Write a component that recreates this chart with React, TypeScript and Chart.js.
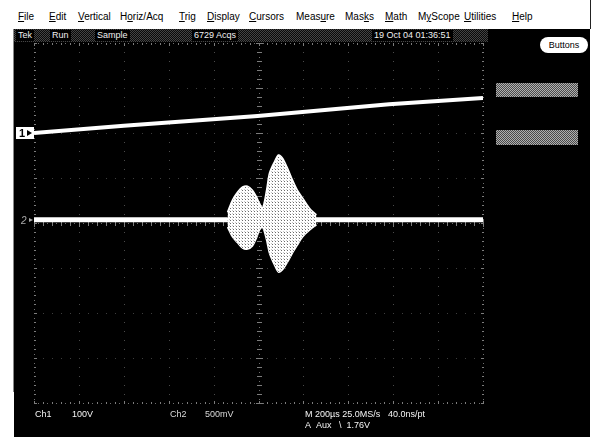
import React, { useEffect, useRef } from "react";
import { Chart, registerables } from "chart.js";

Chart.register(...registerables);

// Horizontal: 200 µs/div, 10 divisions. Vertical: values in graticule divisions (8 divs).
const TIME_MIN_US = 0;
const TIME_MAX_US = 2000;
const TIME_PER_DIV_US = 200;
const DIV_MIN = -4;
const DIV_MAX = 4;

// Channel 1: slow ramp (100 V/div)
const CH1_TIME_US = [0, 400, 996, 1582, 2000];
const CH1_DIV = [2.0, 2.16, 2.38, 2.64, 2.78];

// Channel 2: flat trace (500 mV/div)
const CH2_TIME_US = [0, 2000];
const CH2_DIV = [0.07, 0.07];

// Channel 2 burst envelope
const BURST_TIME_US = [862, 884, 907, 929, 951, 973, 991, 1004, 1018, 1036, 1049, 1071, 1089, 1107, 1129, 1151, 1173, 1196, 1227, 1258];
const BURST_UPPER_DIV = [0.24, 0.51, 0.69, 0.8, 0.82, 0.73, 0.58, 0.44, 0.33, 0.73, 1.11, 1.36, 1.51, 1.44, 1.22, 0.96, 0.73, 0.56, 0.33, 0.18];
const BURST_LOWER_DIV = [-0.09, -0.31, -0.44, -0.56, -0.58, -0.51, -0.33, -0.16, -0.09, -0.38, -0.67, -0.93, -1.09, -1.04, -0.87, -0.67, -0.49, -0.31, -0.16, -0.04];

const MENU_ITEMS: [string, number, number][] = [
  ["File", 18, 0],
  ["Edit", 49, 0],
  ["Vertical", 78, 0],
  ["Horiz/Acq", 120, 1],
  ["Trig", 179, 0],
  ["Display", 207, 0],
  ["Cursors", 249, 0],
  ["Measure", 296, 4],
  ["Masks", 345, 3],
  ["Math", 385, 0],
  ["MyScope", 418, 1],
  ["Utilities", 464, 0],
  ["Help", 512, 0],
];

const STATUS_ITEMS: [string, number][] = [
  ["Tek", 16],
  ["Run", 50],
  ["Sample", 95],
  ["6729 Acqs", 192],
  ["19 Oct 04 01:36:51", 372],
];

const pts = (xs: number[], ys: number[]) => xs.map((x, i) => ({ x, y: ys[i] }));

function makeDither(ctx: CanvasRenderingContext2D) {
  const c = document.createElement("canvas");
  c.width = 3;
  c.height = 3;
  const g = c.getContext("2d")!;
  g.fillStyle = "#ffffff";
  g.fillRect(0, 0, 3, 3);
  g.fillStyle = "#c8c8c8";
  g.fillRect(1, 0, 1, 1);
  g.fillStyle = "#6a6a6a";
  g.fillRect(2, 1, 1, 1);
  return ctx.createPattern(c, "repeat")!;
}

const graticulePlugin = {
  id: "graticule",
  beforeDatasetsDraw(chart: any) {
    const { ctx, chartArea: a, scales } = chart;
    const xs = scales.x;
    const ys = scales.y;
    ctx.save();
    const cx = Math.round(xs.getPixelForValue((TIME_MIN_US + TIME_MAX_US) / 2));
    const cy = Math.round(ys.getPixelForValue(0));
    const divW = xs.getPixelForValue(TIME_PER_DIV_US) - xs.getPixelForValue(0);
    const divH = ys.getPixelForValue(0) - ys.getPixelForValue(1);
    // dotted division lines
    for (let t = TIME_MIN_US; t <= TIME_MAX_US; t += TIME_PER_DIV_US) {
      const x = Math.round(xs.getPixelForValue(t));
      const edge = t === TIME_MIN_US || t === TIME_MAX_US || x === cx;
      ctx.fillStyle = edge ? "#6e6e6e" : "#4a4a4a";
      const step = edge ? divH / 10 : divH / 5;
      for (let y = a.top; y <= a.bottom + 0.5; y += step) ctx.fillRect(x, Math.round(y), 1, 1);
    }
    for (let d = DIV_MIN; d <= DIV_MAX; d++) {
      const y = Math.round(ys.getPixelForValue(d));
      const edge = d === DIV_MIN || d === DIV_MAX || d === 0;
      ctx.fillStyle = edge ? "#6e6e6e" : "#3e3e3e";
      const step = edge ? divW / 10 : divW / 5;
      for (let x = a.left; x <= a.right + 0.5; x += step) ctx.fillRect(Math.round(x), y, 1, 1);
    }
    // minor ticks on the centre cross and frame
    ctx.fillStyle = "#7c7c7c";
    for (let i = 0; i <= 50; i++) {
      const x = Math.round(a.left + (i * divW) / 5);
      const len = i % 5 === 0 ? 3 : 2;
      ctx.fillRect(x, cy - len, 1, len * 2 + 1);
      ctx.fillRect(x, Math.round(a.top), 1, len);
      ctx.fillRect(x, Math.round(a.bottom) - len + 1, 1, len);
    }
    for (let i = 0; i <= 40; i++) {
      const y = Math.round(a.top + (i * divH) / 5);
      const len = i % 5 === 0 ? 3 : 2;
      ctx.fillRect(cx - len, y, len * 2 + 1, 1);
      ctx.fillRect(Math.round(a.left), y, len, 1);
      ctx.fillRect(Math.round(a.right) - len + 1, y, len, 1);
    }
    ctx.restore();
  },
};

const markerPlugin = {
  id: "markers",
  afterDatasetsDraw(chart: any) {
    const { ctx, scales } = chart;
    const ys = scales.y;
    ctx.save();
    // channel 1 reference marker
    const y1 = Math.round(ys.getPixelForValue(CH1_DIV[0]));
    ctx.fillStyle = "#ffffff";
    ctx.fillRect(16, y1 - 6, 18, 12);
    ctx.fillStyle = "#000000";
    ctx.font = "bold 11px 'Liberation Sans', Arial, sans-serif";
    ctx.textBaseline = "middle";
    ctx.fillText("1", 19, y1 + 1);
    ctx.beginPath();
    ctx.moveTo(27, y1 - 3);
    ctx.lineTo(32, y1);
    ctx.lineTo(27, y1 + 3);
    ctx.closePath();
    ctx.fill();
    // channel 2 reference marker
    const y2 = Math.round(ys.getPixelForValue(CH2_DIV[0]));
    ctx.fillStyle = "#a8a8a8";
    ctx.font = "italic 10px 'Liberation Sans', Arial, sans-serif";
    ctx.fillText("2", 21, y2 + 1);
    ctx.beginPath();
    ctx.moveTo(29, y2 - 2);
    ctx.lineTo(33, y2);
    ctx.lineTo(29, y2 + 2);
    ctx.closePath();
    ctx.fill();
    ctx.restore();
  },
};

const abs = (left: number, top: number, extra: React.CSSProperties = {}): React.CSSProperties => ({
  position: "absolute",
  left,
  top,
  whiteSpace: "nowrap",
  ...extra,
});

const dither = (a: string, b: string) =>
  `repeating-conic-gradient(${a} 0% 25%, ${b} 0% 50%) 0 0 / 2px 2px`;

export default function App() {
  const canvasRef = useRef<HTMLCanvasElement | null>(null);

  useEffect(() => {
    const canvas = canvasRef.current!;
    const ctx = canvas.getContext("2d")!;
    const fillPattern = makeDither(ctx);
    const chart = new Chart(canvas, {
      type: "line",
      data: {
        datasets: [
          {
            label: "Ch1",
            data: pts(CH1_TIME_US, CH1_DIV),
            borderColor: "#ffffff",
            borderWidth: 4,
            pointRadius: 0,
            fill: false,
            tension: 0,
          },
          {
            label: "Ch2 envelope max",
            data: pts(BURST_TIME_US, BURST_UPPER_DIV),
            borderColor: "#ffffff",
            borderWidth: 1.5,
            pointRadius: 0,
            fill: "+1",
            backgroundColor: fillPattern as any,
            tension: 0.3,
          },
          {
            label: "Ch2 envelope min",
            data: pts(BURST_TIME_US, BURST_LOWER_DIV),
            borderColor: "#ffffff",
            borderWidth: 1.5,
            pointRadius: 0,
            fill: false,
            tension: 0.3,
          },
          {
            label: "Ch2",
            data: pts(CH2_TIME_US, CH2_DIV),
            borderColor: "#ffffff",
            borderWidth: 5,
            pointRadius: 0,
            fill: false,
            tension: 0,
          },
        ],
      },
      options: {
        animation: false,
        responsive: false,
        events: [],
        layout: { padding: { left: 34, top: 43, right: 109, bottom: 34 } },
        plugins: { legend: { display: false }, tooltip: { enabled: false } },
        scales: {
          x: { type: "linear", min: TIME_MIN_US, max: TIME_MAX_US, display: false },
          y: { type: "linear", min: DIV_MIN, max: DIV_MAX, display: false },
        },
      },
      plugins: [graticulePlugin, markerPlugin],
    });
    return () => chart.destroy();
  }, []);

  const menuFont = "10px 'Liberation Sans', Arial, sans-serif";
  const smallFont = "9px 'Liberation Sans', Arial, sans-serif";

  return (
    <div
      style={{
        position: "fixed",
        left: 0,
        top: 0,
        width: 592,
        height: 437,
        background: "#ffffff",
        overflow: "hidden",
        fontFamily: "'Liberation Sans', Arial, sans-serif",
      }}
    >
      {/* menu bar */}
      {MENU_ITEMS.map(([label, x, u]) => (
        <div key={label} style={abs(x, 11, { font: menuFont, color: "#000" })}>
          {label.slice(0, u)}
          <u>{label[u]}</u>
          {label.slice(u + 1)}
        </div>
      ))}
      <div style={abs(590, 0, { width: 1, height: 29, background: "#222" })} />
      {/* scope screen */}
      <div style={abs(13, 29, { width: 1, height: 363, background: "#888" })} />
      <div style={abs(14, 29, { width: 576, height: 408, background: "#000" })} />
      {/* status bar */}
      <div style={abs(14, 29, { width: 474, height: 13, background: dither("#444444", "#0a0a0a") })} />
      {STATUS_ITEMS.map(([label, x]) => (
        <div key={label} style={abs(x, 30, { font: smallFont, color: "#f0f0f0", background: "#000", padding: "0 2px", lineHeight: "11px" })}>
          {label}
        </div>
      ))}
      {/* right side button area */}
      <div
        style={abs(540, 37, {
          width: 48,
          height: 16,
          background: "#fff",
          borderRadius: 8,
          font: smallFont,
          color: "#000",
          textAlign: "center",
          lineHeight: "16px",
        })}
      >
        Buttons
      </div>
      <div style={abs(496, 83, { width: 82, height: 14, background: dither("#b0b0b0", "#4a4a4a") })} />
      <div style={abs(496, 130, { width: 82, height: 15, background: dither("#b0b0b0", "#4a4a4a") })} />
      {/* waveform canvas */}
      <canvas ref={canvasRef} width={592} height={437} style={abs(0, 0, { width: 592, height: 437 })} />
      {/* readouts */}
      <div style={abs(35, 409, { font: smallFont, color: "#f4f4f4" })}>Ch1</div>
      <div style={abs(72, 409, { font: smallFont, color: "#f4f4f4" })}>100V</div>
      <div style={abs(170, 409, { font: smallFont, color: "#d8d8d8" })}>Ch2</div>
      <div style={abs(205, 409, { font: smallFont, color: "#d8d8d8" })}>500mV</div>
      <div style={abs(305, 409, { font: smallFont, color: "#f4f4f4" })}>M 200µs 25.0MS/s</div>
      <div style={abs(388, 409, { font: smallFont, color: "#f4f4f4" })}>40.0ns/pt</div>
      <div style={abs(305, 420, { font: smallFont, color: "#f4f4f4" })}>A&nbsp;&nbsp;Aux&nbsp;&nbsp;&nbsp;\&nbsp;&nbsp;1.76V</div>
    </div>
  );
}
